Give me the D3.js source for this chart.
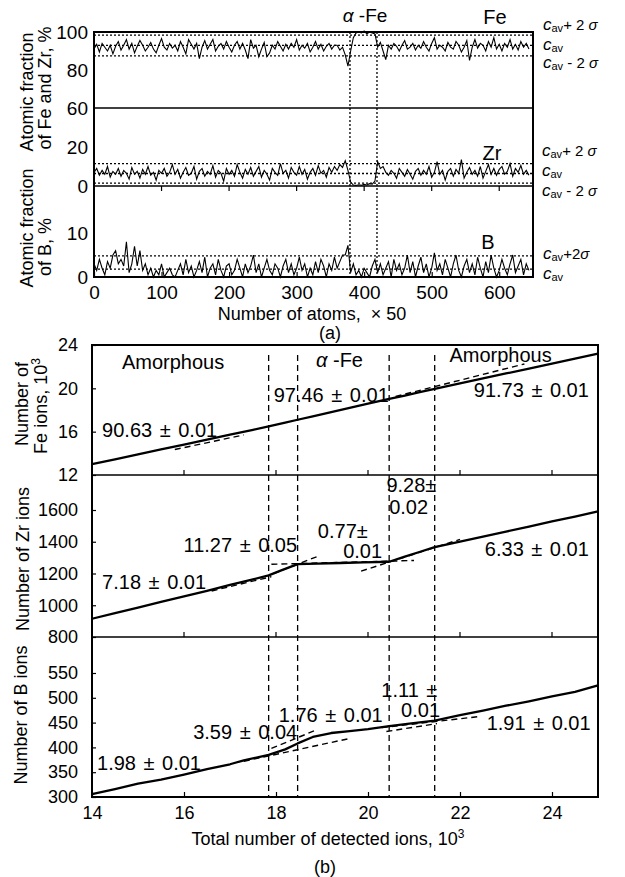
<!DOCTYPE html>
<html>
<head>
<meta charset="utf-8">
<script src="https://cdn.jsdelivr.net/npm/d3@7"></script>
<style>
    body { margin: 0; background: #fff; }
    svg text { font-family: "Liberation Sans", Arial, sans-serif; fill: #000; }
</style>
</head>
<body>
<svg id="fig" width="625" height="877"></svg>
<script>
// ---------- (a) atomic fraction profiles, one reading every 4 x 50 atoms
var atomStep = 4;
var feFrac = [
    91, 93.5, 89.5, 94, 92, 90, 93, 88.5, 92.5, 95,
    90.5, 93, 96, 91, 94, 89, 92.5, 95.5, 93, 90,
    92, 94.5, 91, 89, 93, 96.5, 92, 90.5, 94, 91.5,
    93, 90, 95, 92, 88.5, 96, 93.5, 91, 94, 86,
    92, 95.5, 91, 93.5, 96, 90, 92.5, 94, 91, 95,
    92, 89.5, 93, 95, 91, 94, 90.5, 86, 96, 91.5,
    93, 87, 91, 94.5, 87, 89, 93, 91, 95, 92.5,
    90, 93.5, 91, 94, 92, 96, 90.5, 93, 91.5, 94,
    89.5, 92, 95, 91, 93.5, 90, 92.5, 94, 91, 93,
    93, 90.5, 92, 88, 82, 90, 97, 99.5, 100, 99.5,
    100.5, 99, 100, 99.5, 99, 92, 94.5, 90, 85.5, 93,
    91, 94, 92.5, 90, 93, 95.5, 91, 92, 94, 90.5,
    93, 91.5, 95, 92, 90, 94, 97, 91, 93, 92,
    90, 94.5, 92, 91, 95, 93, 89.5, 92, 95.5, 85,
    92, 96, 91.5, 94, 93, 90, 95, 92, 97, 91,
    93.5, 90, 94, 92, 96, 91, 93.5, 90.5, 95, 92,
    94, 91
];
var zrFrac = [
    7, 9, 5.5, 8, 6, 10, 4.5, 7.5, 6, 9,
    5, 8, 6.5, 3.5, 9.5, 6, 7.5, 4, 8.5, 6,
    10, 5.5, 7, 3, 8, 6.5, 9, 5, 7, 11,
    6, 8.5, 4, 7, 9.5, 5.5, 6.5, 10, 3.5, 7.5,
    9, 5, 7.5, 6, 10.5, 4.5, 8, 6.5, 2.5, 9,
    6, 8, 5, 11, 7, 4, 8.5, 6, 9.5, 5,
    7.5, 10, 4.5, 8, 6, 3, 9, 7, 5.5, 11.5,
    6.5, 8, 4, 9.5, 7, 5.5, 10, 6, 8.5, 3.5,
    7, 9, 5.5, 10.5, 6.5, 8, 4.5, 9.5, 7, 10,
    8, 11, 9.5, 13, 8, 2, 0.5, 0.3, 0.6, 0.4,
    0.8, 0.5, 1.2, 1.0, 2.5, 12.5, 9, 10, 7, 5.5,
    8, 6.5, 4, 9, 7, 5, 8.5, 6, 3.5, 7.5,
    9, 5.5, 8, 6, 10, 4.5, 7, 12.5, 6, 8,
    3, 7.5, 9, 5, 8.5, 6.5, 13.5, 4, 7, 9.5,
    6, 8, 5, 10, 4, 7.5, 11, 6, 9, 5.5,
    8.5, 10, 6, 7.5, 11.5, 5, 9, 7, 10.5, 6,
    8, 5.5
];
var bFrac = [
    3, 1.5, 4, 2, 0.5, 3.5, 2, 5, 6, 3,
    4, 2.5, 8, 1, 3, 7, 2.5, 6, 1.5, 3,
    0.5, 2, 0, 1.5, 0.5, 3, 0, 1, 2, 0.5,
    0, 1.5, 3, 0.5, 4, 1, 2.5, 0, 1.5, 3.5,
    1, 4.5, 0, 2, 3, 0.5, 4, 1.5, 0, 2.5,
    3, 0.5, 1.5, 4, 2, 0, 3, 1, 2.5, 5,
    1, 3, 0, 2, 4, 1.5, 0.5, 3, 2, 0,
    2.5, 4, 1, 3, 0.5, 2, 4.5, 1.5, 3, 0,
    2, 0.5, 3.5, 1, 4, 2.5, 0, 3, 1.5, 4.5,
    2, 3.5, 5, 5, 7.2, 1, 3, 0.5, 1.5, 0,
    2, 1, 0, 2.5, 4, 1, 3, 0.5, 2, 3.5,
    0, 4, 1.5, 3, 0.5, 2, 5, 1, 3.5, 0,
    2.5, 4.5, 1, 3, 0, 2, 5.5, 1.5, 3, 0.5,
    4, 2, 0, 3, 5, 1.5, 0, 2.5, 4, 1,
    3, 0.5, 4.5, 2, 0, 3.5, 1, 5, 2, 0,
    1.5, 4, 2, 0.5, 3, 5, 1, 2.5, 4, 0.5,
    3, 1.5
];
// cav + 2 sigma, cav, cav - 2 sigma
var feLevels = [98.4, 93.0, 87.4];
var zrLevels = [11.5, 6.4, 1.5];
var bLevels = [4.8, 1.8];
var alphaBounds = [379, 419];
var atomTicks = [0, 100, 200, 300, 400, 500, 600];

// ---------- (b) cumulative ion counts vs total detected ions (10^3)
var feTotal = [14.0, 14.5, 15.0, 15.5, 16.0, 16.5, 17.0, 17.5, 17.84, 18.2, 18.47, 18.8, 19.2,
    19.6, 20.0, 20.46, 20.8, 21.1, 21.45, 22.0, 22.5, 23.0, 23.5, 24.0, 24.5, 25.0];
var feIons = [13.0, 13.45, 13.9, 14.36, 14.8, 15.27, 15.72, 16.17, 16.48, 16.83, 17.1, 17.42, 17.8,
    18.2, 18.58, 19.03, 19.33, 19.62, 19.95, 20.45, 20.91, 21.37, 21.83, 22.29, 22.75, 23.2];
var zrTotal = [14.0, 14.5, 15.0, 15.5, 16.0, 16.5, 17.0, 17.5, 17.84, 18.1, 18.47, 18.9, 19.4,
    19.9, 20.46, 20.8, 21.1, 21.45, 22.0, 22.5, 23.0, 23.5, 24.0, 24.5, 25.0];
var zrIons = [915, 950, 985, 1021, 1056, 1091, 1128, 1163, 1188, 1218, 1259, 1262, 1266,
    1270, 1274, 1306, 1334, 1366, 1401, 1433, 1464, 1496, 1528, 1559, 1591];
var bTotal = [14.0, 14.5, 15.0, 15.5, 16.0, 16.5, 17.0, 17.3, 17.6, 17.84, 18.2, 18.47, 18.8,
    19.2, 19.6, 20.0, 20.46, 20.9, 21.45, 22.0, 22.5, 23.0, 23.5, 24.0, 24.5, 25.0];
var bIons = [306, 316, 327, 335, 345, 356, 366, 374, 380, 385, 396, 408, 421,
    429, 433, 437, 443, 448, 454, 465, 474, 484, 493, 503, 512, 525];
// linear fits, [x1, y1, x2, y2]
var feFits = [[15.8, 14.35, 17.3, 15.7], [20.6, 19.25, 23.4, 22.25]];
var zrFits = [[16.6, 1090, 17.9, 1180], [17.95, 1200, 18.95, 1313], [17.9, 1258, 21.0, 1282], [19.85, 1215, 22.0, 1415]];
var bFits = [[17.3, 372, 19.6, 418], [17.9, 398, 18.9, 436], [20.3, 440, 22.4, 462], [20.4, 432, 21.5, 448]];
var interfaces = [17.84, 18.47, 20.46, 21.45];
var totalTicks = [14, 16, 18, 20, 22, 24];

var svg = d3.select('#fig');

function strokeLine(g, pts, w, dash) {
    g.append('path')
        .attr('d', d3.line()(pts))
        .attr('fill', 'none')
        .attr('stroke', '#000')
        .attr('stroke-width', w)
        .attr('stroke-dasharray', dash || null);
}

function cleanAxis(g, size) {
    g.select('.domain').remove();
    g.selectAll('text').style('font-size', size + 'px');
    g.selectAll('line').attr('stroke-width', 1.2);
}

function upTicks(g, scale, vals, y, len) {
    g.selectAll(null).data(vals).join('line')
        .attr('x1', function(d) { return scale(d); })
        .attr('x2', function(d) { return scale(d); })
        .attr('y1', y).attr('y2', y - len)
        .attr('stroke', '#000').attr('stroke-width', 1.2);
}

function vText(x, y, str, size) {
    return svg.append('text')
        .attr('transform', 'translate(' + x + ',' + y + ') rotate(-90)')
        .attr('text-anchor', 'middle')
        .style('font-size', size + 'px')
        .text(str);
}

function cavLabel(x, y, tail) {
    var t = svg.append('text').attr('x', x).attr('y', y).style('font-size', '15px');
    t.append('tspan').style('font-style', 'italic').style('font-size', '17px').text('c');
    t.append('tspan').attr('dy', 2).style('font-size', '11px').text('av');
    if (tail) {
        t.append('tspan').attr('dy', -2).text(tail);
        t.append('tspan').style('font-style', 'italic').text('\u03c3');
    }
}

// ================= panel (a)
var xa = d3.scaleLinear().domain([0, 650]).range([94, 533]);
var yFe = d3.scaleLinear().domain([60, 100]).range([108, 32]);
var yZr = d3.scaleLinear().domain([0, 40]).range([186, 108]);
var yB = d3.scaleLinear().domain([0, 20.7]).range([277, 186]);

var ga = svg.append('g');

// reference levels
[[feLevels, yFe], [zrLevels, yZr], [bLevels, yB]].forEach(function(p) {
    p[0].forEach(function(v) {
        strokeLine(ga, [[xa(0), p[1](v)], [xa(650), p[1](v)]], 1.3, '2,2');
    });
});
alphaBounds.forEach(function(v) {
    strokeLine(ga, [[xa(v), yFe(100)], [xa(v), yB(0)]], 1.3, '2,2');
});

// profiles
[[feFrac, yFe], [zrFrac, yZr], [bFrac, yB]].forEach(function(p) {
    ga.append('path')
        .datum(p[0])
        .attr('fill', 'none')
        .attr('stroke', '#000')
        .attr('stroke-width', 1.1)
        .attr('d', d3.line()
            .x(function(d, i) { return xa(i * atomStep); })
            .y(function(d) { return p[1](d); }));
});

// frame and separators
ga.append('rect').attr('x', 94).attr('y', 32).attr('width', 439).attr('height', 245)
    .attr('fill', 'none').attr('stroke', '#000').attr('stroke-width', 2);
strokeLine(ga, [[xa(0), yFe(60)], [xa(650), yFe(60)]], 1.6);
strokeLine(ga, [[xa(0), yZr(0)], [xa(650), yZr(0)]], 1.6);
upTicks(ga, xa, atomTicks.slice(1), yZr(0) + 5, 5);

ga.append('g').attr('transform', 'translate(94,0)')
    .call(d3.axisLeft(yFe).tickValues([60, 80, 100]).tickSize(0).tickPadding(6))
    .call(cleanAxis, 19);
ga.append('g').attr('transform', 'translate(94,0)')
    .call(d3.axisLeft(yZr).tickValues([0, 20]).tickSize(0).tickPadding(6))
    .call(cleanAxis, 19);
ga.append('g').attr('transform', 'translate(94,0)')
    .call(d3.axisLeft(yB).tickValues([0, 10]).tickSize(0).tickPadding(6))
    .call(cleanAxis, 19);
ga.append('g').attr('transform', 'translate(0,277)')
    .call(d3.axisBottom(xa).tickValues(atomTicks).tickSizeInner(-5).tickSizeOuter(0).tickPadding(9))
    .call(cleanAxis, 19);

vText(33, 92, 'Atomic fraction', 18);
vText(51, 88, 'of Fe and Zr, %', 18);
vText(33, 228, 'Atomic fraction', 18);
vText(51, 247, 'of B, %', 18);

svg.append('text').attr('x', 312).attr('y', 320).attr('text-anchor', 'middle')
    .style('font-size', '18px').attr('xml:space', 'preserve').text('Number of atoms,  \u00d7 50');
svg.append('text').attr('x', 330).attr('y', 339).attr('text-anchor', 'middle')
    .style('font-size', '18px').text('(a)');

var alphaLbl = svg.append('text').attr('x', 365).attr('y', 22).attr('text-anchor', 'middle').style('font-size', '19px');
alphaLbl.append('tspan').style('font-style', 'italic').text('\u03b1');
alphaLbl.append('tspan').text(' -Fe');
svg.append('text').attr('x', 495).attr('y', 24).attr('text-anchor', 'middle').style('font-size', '20px').text('Fe');
svg.append('text').attr('x', 492).attr('y', 160).attr('text-anchor', 'middle').style('font-size', '20px').text('Zr');
svg.append('text').attr('x', 488).attr('y', 249).attr('text-anchor', 'middle').style('font-size', '20px').text('B');

cavLabel(543, 30, '+ 2 ');
cavLabel(543, 50);
cavLabel(543, 68, ' - 2 ');
cavLabel(542, 156, '+ 2 ');
cavLabel(542, 176);
cavLabel(542, 196, ' - 2 ');
cavLabel(543, 259, '+2');
cavLabel(543, 279);

// ================= panel (b)
var xb = d3.scaleLinear().domain([14, 25]).range([92, 598]);
var yFeB = d3.scaleLinear().domain([12, 24]).range([475, 345]);
var yZrB = d3.scaleLinear().domain([800, 1600]).range([637, 510]);
var yBB = d3.scaleLinear().domain([300, 550]).range([797, 673]);

var gb = svg.append('g');

interfaces.forEach(function(v) {
    strokeLine(gb, [[xb(v), 355], [xb(v), 797]], 1.3, '6,4');
});

[[feTotal, feIons, yFeB], [zrTotal, zrIons, yZrB], [bTotal, bIons, yBB]].forEach(function(p) {
    gb.append('path')
        .datum(p[0])
        .attr('fill', 'none')
        .attr('stroke', '#000')
        .attr('stroke-width', 2.3)
        .attr('stroke-linejoin', 'round')
        .attr('d', d3.line()
            .x(function(d) { return xb(d); })
            .y(function(d, i) { return p[2](p[1][i]); }));
});

[[feFits, yFeB], [zrFits, yZrB], [bFits, yBB]].forEach(function(p) {
    p[0].forEach(function(f) {
        strokeLine(gb, [[xb(f[0]), p[1](f[1])], [xb(f[2]), p[1](f[3])]], 1.4, '6,4');
    });
});

gb.append('rect').attr('x', 92).attr('y', 345).attr('width', 506).attr('height', 452)
    .attr('fill', 'none').attr('stroke', '#000').attr('stroke-width', 2);
strokeLine(gb, [[92, yFeB(12)], [598, yFeB(12)]], 1.6);
strokeLine(gb, [[92, yZrB(800)], [598, yZrB(800)]], 1.6);
upTicks(gb, xb, totalTicks.slice(1), yFeB(12), 5);
upTicks(gb, xb, totalTicks.slice(1), yZrB(800), 5);

gb.append('g').attr('transform', 'translate(92,0)')
    .call(d3.axisLeft(yFeB).tickValues([12, 16, 20, 24]).tickSizeInner(-4).tickSizeOuter(0).tickPadding(14))
    .call(cleanAxis, 18);
gb.append('g').attr('transform', 'translate(92,0)')
    .call(d3.axisLeft(yZrB).tickValues([800, 1000, 1200, 1400, 1600]).tickFormat(d3.format('d'))
        .tickSizeInner(-4).tickSizeOuter(0).tickPadding(14))
    .call(cleanAxis, 18);
gb.append('g').attr('transform', 'translate(92,0)')
    .call(d3.axisLeft(yBB).tickValues([300, 350, 400, 450, 500, 550]).tickSizeInner(-4).tickSizeOuter(0).tickPadding(14))
    .call(cleanAxis, 18);
gb.append('g').attr('transform', 'translate(0,797)')
    .call(d3.axisBottom(xb).tickValues(totalTicks).tickSizeInner(-5).tickSizeOuter(0).tickPadding(9))
    .call(cleanAxis, 18);

vText(28, 404, 'Number of', 18);
var feT = vText(47, 406, 'Fe ions, 10', 18);
feT.append('tspan').attr('dy', -7).style('font-size', '12px').text('3');
vText(29, 559, 'Number of Zr ions', 18);
vText(27, 715, 'Number of B ions', 18);

var xTitle = svg.append('text').attr('x', 328).attr('y', 845).attr('text-anchor', 'middle').style('font-size', '18px');
xTitle.append('tspan').text('Total number of detected ions, 10');
xTitle.append('tspan').attr('dy', -7).style('font-size', '12px').text('3');
svg.append('text').attr('x', 325).attr('y', 873).attr('text-anchor', 'middle')
    .style('font-size', '18px').text('(b)');

// annotations in data coordinates of each strip
var notes = [
    [yFeB, 14.65, 21.78, 'Amorphous'],
    [yFeB, 21.77, 22.43, 'Amorphous'],
    [yFeB, 17.95, 18.74, '97.46 \u00b1 0.01'],
    [yFeB, 22.30, 19.2, '91.73 \u00b1 0.01'],
    [yFeB, 14.22, 15.5, '90.63 \u00b1 0.01'],
    [yZrB, 14.22, 1102, '7.18 \u00b1 0.01'],
    [yZrB, 15.99, 1335, '11.27 \u00b1 0.05'],
    [yZrB, 18.91, 1425, '0.77\u00b1'],
    [yZrB, 19.46, 1300, '0.01'],
    [yZrB, 20.40, 1712, '9.28\u00b1'],
    [yZrB, 20.46, 1576, '0.02'],
    [yZrB, 22.54, 1310, '6.33 \u00b1 0.01'],
    [yBB, 18.06, 451, '1.76 \u00b1 0.01'],
    [yBB, 16.20, 417, '3.59 \u00b1 0.04'],
    [yBB, 14.11, 354, '1.98 \u00b1 0.01'],
    [yBB, 20.29, 502, '1.11 \u00b1'],
    [yBB, 20.72, 461, '0.01'],
    [yBB, 22.58, 435, '1.91 \u00b1 0.01']
];
notes.forEach(function(n) {
    svg.append('text')
        .attr('x', xb(n[1]))
        .attr('y', n[0](n[2]))
        .style('font-size', '20px')
        .style('word-spacing', '2px')
        .text(n[3]);
});
var aFe = svg.append('text').attr('x', xb(18.87)).attr('y', yFeB(21.97)).style('font-size', '20px');
aFe.append('tspan').style('font-style', 'italic').text('\u03b1');
aFe.append('tspan').text(' -Fe');
</script>
</body>
</html>
